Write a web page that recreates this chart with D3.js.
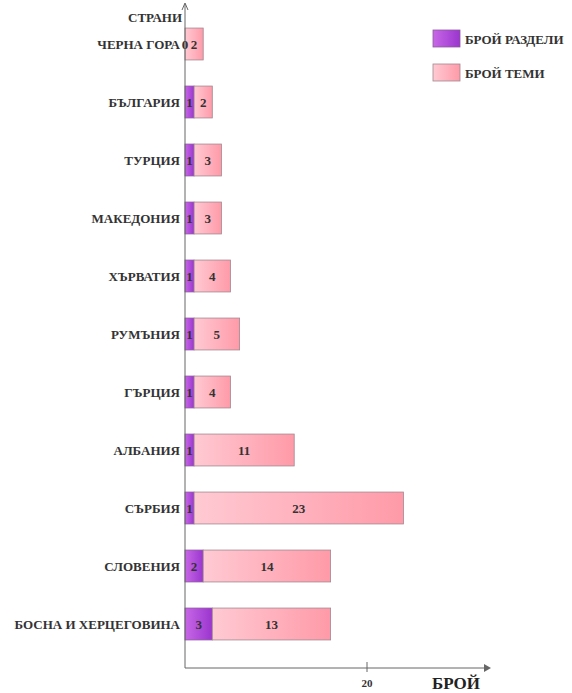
<!DOCTYPE html>
<meta charset="utf-8">
<head>
	<title>Брой раздели и теми</title>
	<script src="https://cdn.jsdelivr.net/npm/d3@7"></script>
	<style>
		body { margin: 0; background: #fff; }
		svg text { font-family: "Liberation Serif", "Times New Roman", "DejaVu Serif", serif; font-weight: bold; fill: #333; }
	</style>
</head>
<body>
	<div id="chart"></div>
	<script>
		// data
		var countries = ["ЧЕРНА ГОРА", "БЪЛГАРИЯ", "ТУРЦИЯ", "МАКЕДОНИЯ", "ХЪРВАТИЯ", "РУМЪНИЯ",
			"ГЪРЦИЯ", "АЛБАНИЯ", "СЪРБИЯ", "СЛОВЕНИЯ", "БОСНА И ХЕРЦЕГОВИНА"];
		var sections = [0, 1, 1, 1, 1, 1, 1, 1, 1, 2, 3];
		var topics = [2, 2, 3, 3, 4, 5, 4, 11, 23, 14, 13];
		var seriesNames = ["БРОЙ РАЗДЕЛИ", "БРОЙ ТЕМИ"];
		var xTicks = [20];

		var width = 572, height = 693;
		var x0 = 185, axisY = 668;

		var svg = d3.select("#chart").append("svg")
			.attr("width", width).attr("height", height);

		var defs = svg.append("defs");
		function grad(id, c1, c2) {
			var g = defs.append("linearGradient").attr("id", id)
				.attr("x1", "0%").attr("x2", "100%").attr("y1", "0%").attr("y2", "0%");
			g.append("stop").attr("offset", "0%").attr("stop-color", c1);
			g.append("stop").attr("offset", "100%").attr("stop-color", c2);
		}
		grad("gPurple", "#c867e6", "#9b35cf");
		grad("gPink", "#ffcad3", "#ff9aa8");

		var x = d3.scaleLinear().domain([0, 20]).range([x0, 367]);
		var y = d3.scaleBand().domain(countries).range([15, 653]).paddingInner(0.45).paddingOuter(0.225);

		// bars
		var rows = svg.append("g").selectAll("g")
			.data(countries.map(function(c, i) { return {c: c, s: sections[i], t: topics[i]}; }))
			.enter().append("g");

		rows.append("rect")
			.attr("x", x(0))
			.attr("y", function(d) { return y(d.c); })
			.attr("width", function(d) { return x(d.s) - x(0); })
			.attr("height", y.bandwidth())
			.attr("fill", "url(#gPurple)")
			.attr("stroke", function(d) { return d.s ? "#8a5a9a" : "none"; })
			.attr("stroke-width", 0.8);

		rows.append("rect")
			.attr("x", function(d) { return x(d.s); })
			.attr("y", function(d) { return y(d.c); })
			.attr("width", function(d) { return x(d.s + d.t) - x(d.s); })
			.attr("height", y.bandwidth())
			.attr("fill", "url(#gPink)")
			.attr("stroke", "#a08890")
			.attr("stroke-width", 0.8);

		rows.append("text")
			.attr("x", function(d) { return (x(0) + x(d.s)) / 2; })
			.attr("y", function(d) { return y(d.c) + y.bandwidth() / 2; })
			.attr("dy", "0.35em").attr("text-anchor", "middle")
			.style("font-size", "13px")
			.text(function(d) { return d.s; });

		rows.append("text")
			.attr("x", function(d) { return (x(d.s) + x(d.s + d.t)) / 2; })
			.attr("y", function(d) { return y(d.c) + y.bandwidth() / 2; })
			.attr("dy", "0.35em").attr("text-anchor", "middle")
			.style("font-size", "13px")
			.text(function(d) { return d.t; });

		// category labels
		rows.append("text")
			.attr("x", x0 - 5)
			.attr("y", function(d) { return y(d.c) + y.bandwidth() / 2; })
			.attr("dy", "0.35em").attr("text-anchor", "end")
			.style("font-size", "13px")
			.text(function(d) { return d.c; });

		// axes
		var axisColor = "#666";
		svg.append("line").attr("x1", x0).attr("x2", x0).attr("y1", 4).attr("y2", axisY)
			.attr("stroke", axisColor);
		svg.append("path").attr("d", "M" + (x0 - 3) + ",10 L" + x0 + ",3 L" + (x0 + 3) + ",10")
			.attr("fill", "none").attr("stroke", axisColor);
		svg.append("line").attr("x1", x0).attr("x2", 484).attr("y1", axisY).attr("y2", axisY)
			.attr("stroke", axisColor);
		svg.append("path").attr("d", "M484," + (axisY - 4) + " L491," + axisY + " L484," + (axisY + 4) + "Z")
			.attr("fill", axisColor);

		var ticks = svg.append("g").selectAll("g").data(xTicks).enter().append("g");
		ticks.append("line")
			.attr("x1", function(d) { return x(d); }).attr("x2", function(d) { return x(d); })
			.attr("y1", axisY - 6).attr("y2", axisY + 4).attr("stroke", axisColor);
		ticks.append("text")
			.attr("x", function(d) { return x(d); }).attr("y", axisY + 19)
			.attr("text-anchor", "middle").style("font-size", "11px")
			.text(function(d) { return d; });

		svg.append("text").attr("x", 432).attr("y", 689)
			.style("font-size", "17px").style("fill", "#222").text("БРОЙ");
		svg.append("text").attr("x", x0 - 3).attr("y", 22).attr("text-anchor", "end")
			.style("font-size", "13px").text("СТРАНИ");

		// legend
		var legend = svg.append("g").selectAll("g").data(seriesNames).enter().append("g")
			.attr("transform", function(d, i) { return "translate(433," + (30 + i * 34) + ")"; });
		legend.append("rect").attr("width", 27).attr("height", 17)
			.attr("fill", function(d, i) { return i ? "url(#gPink)" : "url(#gPurple)"; })
			.attr("stroke", function(d, i) { return i ? "#a08890" : "#8a5a9a"; })
			.attr("stroke-width", 0.8);
		legend.append("text").attr("x", 32).attr("y", 9).attr("dy", "0.35em")
			.style("font-size", "13px").text(function(d) { return d; });
	</script>
</body>
</html>
